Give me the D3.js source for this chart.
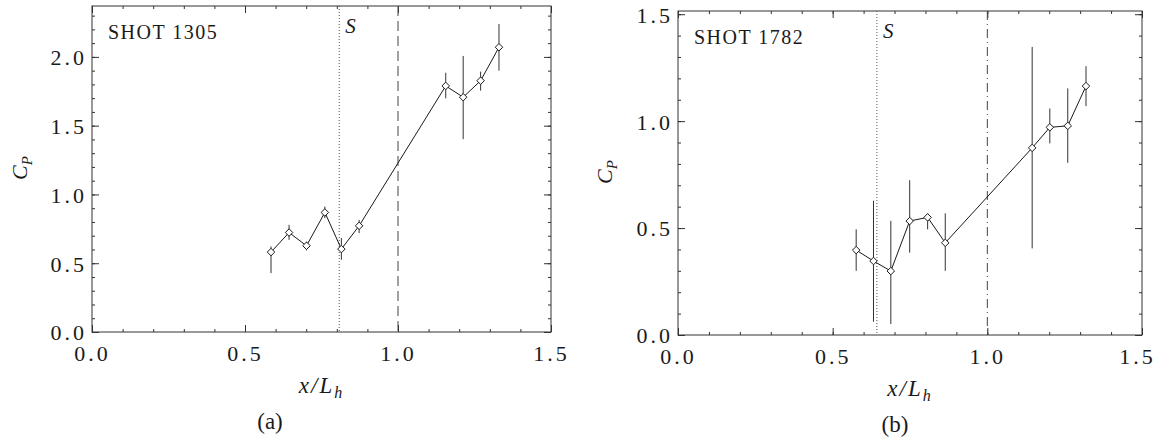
<!DOCTYPE html>
<html>
<head>
<meta charset="utf-8">
<script src="https://cdn.jsdelivr.net/npm/d3@7"></script>
<style>
  html, body { margin: 0; padding: 0; background: #fff; }
  svg { display: block; }
  text { font-family: "Liberation Serif", "Times New Roman", serif; fill: #1a1a1a; }
</style>
</head>
<body>
<svg id="chart" width="1158" height="439"></svg>
<script>
// ---------- data ----------
const shotA = "SHOT  1305";
const shotB = "SHOT  1782";
const panelTagA = "(a)";
const panelTagB = "(b)";

const xPosA  = [0.585, 0.644, 0.701, 0.761, 0.815, 0.873, 1.156, 1.213, 1.270, 1.330];
const cpA    = [0.581, 0.723, 0.627, 0.869, 0.603, 0.772, 1.789, 1.707, 1.827, 2.070];
const cpLoA  = [0.428, 0.670, 0.593, 0.828, 0.525, 0.719, 1.699, 1.402, 1.755, 1.900];
const cpHiA  = [0.622, 0.779, 0.658, 0.912, 0.683, 0.815, 1.885, 2.007, 1.893, 2.239];
const sepA   = 0.808;   // S (separation) line
const refA   = 1.0;     // x/L_h = 1 reference line

const xPosB  = [0.576, 0.632, 0.688, 0.749, 0.807, 0.864, 1.145, 1.202, 1.260, 1.319];
const cpB    = [0.397, 0.346, 0.299, 0.533, 0.550, 0.431, 0.875, 0.971, 0.978, 1.164];
const cpLoB  = [0.300, 0.062, 0.051, 0.385, 0.494, 0.300, 0.405, 0.896, 0.805, 1.070];
const cpHiB  = [0.494, 0.628, 0.534, 0.724, 0.569, 0.569, 1.347, 1.059, 1.153, 1.257];
const sepB   = 0.643;
const refB   = 1.0;

const xTicks  = [0.0, 0.5, 1.0, 1.5];
const yTicksA = [0.0, 0.5, 1.0, 1.5, 2.0];
const yTicksB = [0.0, 0.5, 1.0, 1.5];
const xDomain  = [0, 1.5];
const yDomainA = [0, 2.37];
const yDomainB = [0, 1.515];

// ---------- drawing ----------
const svg = d3.select("#chart");
const fmt = d3.format(".1f");
const ink = "#1a1a1a";

function panel(cfg) {
  const g = svg.append("g");
  const x = d3.scaleLinear().domain(xDomain).range([cfg.left, cfg.right]);
  const y = d3.scaleLinear().domain(cfg.yDomain).range([cfg.bottom, cfg.top]);

  const minorX = d3.range(0, 1.5001, 0.1);
  const minorY = d3.range(0, cfg.yDomain[1] + 1e-6, 0.1);

  function axis(gen, transform, values, size, labels, pad) {
    const a = gen.tickValues(values).tickSizeInner(size).tickSizeOuter(0)
      .tickPadding(pad || 0).tickFormat(labels ? fmt : "");
    const ag = g.append("g").attr("transform", transform).call(a);
    ag.select(".domain").remove();
    ag.selectAll("line").attr("stroke", "#333").attr("stroke-width", 1);
    ag.selectAll("text").attr("font-size", 22).attr("letter-spacing", "3px")
      .attr("fill", ink);
    return ag;
  }
  // bottom
  axis(d3.axisBottom(x), `translate(0,${cfg.bottom})`, minorX, -3, false);
  const xb = axis(d3.axisBottom(x), `translate(0,${cfg.bottom})`, xTicks, -7, true, 13);
  if (cfg.lastLabelShift) {
    xb.selectAll(".tick").filter(d => d === xTicks[xTicks.length - 1])
      .select("text").attr("dx", cfg.lastLabelShift);
  }
  // top
  axis(d3.axisTop(x), `translate(0,${cfg.top})`, minorX, -3, false);
  axis(d3.axisTop(x), `translate(0,${cfg.top})`, xTicks, -7, false);
  // left
  axis(d3.axisLeft(y), `translate(${cfg.left},0)`, minorY, -3, false);
  const yl = axis(d3.axisLeft(y), `translate(${cfg.left},0)`, cfg.yTicks, -7, true, 5);
  yl.selectAll("text").attr("dy", "0.36em");
  // right
  axis(d3.axisRight(y), `translate(${cfg.right},0)`, minorY, -3, false);
  axis(d3.axisRight(y), `translate(${cfg.right},0)`, cfg.yTicks, -7, false);

  // frame
  g.append("rect")
    .attr("x", cfg.left).attr("y", cfg.top)
    .attr("width", cfg.right - cfg.left).attr("height", cfg.bottom - cfg.top)
    .attr("fill", "none").attr("stroke", "#333").attr("stroke-width", 1);

  // separation line S (dotted)
  g.append("line")
    .attr("x1", x(cfg.sep)).attr("x2", x(cfg.sep))
    .attr("y1", cfg.top).attr("y2", cfg.bottom)
    .attr("stroke", "#555").attr("stroke-width", 1).attr("stroke-dasharray", "1,2");
  g.append("text")
    .attr("x", x(cfg.sep) + 6).attr("y", cfg.top + 27)
    .attr("font-size", 21).attr("font-style", "italic").text("S");

  // reference line at x/L_h = 1 (dashed)
  g.append("line")
    .attr("x1", x(cfg.ref)).attr("x2", x(cfg.ref))
    .attr("y1", cfg.top).attr("y2", cfg.bottom)
    .attr("stroke", "#444").attr("stroke-width", 1).attr("stroke-dasharray", cfg.refDash);

  // error bars
  g.selectAll(".err").data(cfg.xs).join("line")
    .attr("x1", d => x(d)).attr("x2", d => x(d))
    .attr("y1", (d, i) => y(cfg.lo[i])).attr("y2", (d, i) => y(cfg.hi[i]))
    .attr("stroke", "#333").attr("stroke-width", 1);

  // connecting line
  const pts = cfg.xs.map((d, i) => [d, cfg.cp[i]]);
  g.append("path")
    .attr("d", d3.line().x(d => x(d[0])).y(d => y(d[1]))(pts))
    .attr("fill", "none").attr("stroke", ink).attr("stroke-width", 1);

  // diamond markers
  const sym = d3.symbol().type(d3.symbolDiamond2).size(36);
  g.selectAll(".mk").data(pts).join("path")
    .attr("transform", d => `translate(${x(d[0])},${y(d[1])})`)
    .attr("d", sym)
    .attr("fill", "#fff").attr("stroke", ink).attr("stroke-width", 1);

  // shot label
  g.append("text")
    .attr("x", cfg.left + 16).attr("y", cfg.top + 33)
    .attr("font-size", 20).attr("letter-spacing", "1.5px").text(cfg.shot);

  // y-axis title C_P
  const yt = g.append("text")
    .attr("transform", `translate(${cfg.yTitleX},${cfg.yTitleY}) rotate(-90)`)
    .attr("text-anchor", "middle").attr("font-size", 22).attr("font-style", "italic");
  yt.append("tspan").text("C");
  yt.append("tspan").attr("font-size", 15).attr("dy", 5).text("P");

  // x-axis title x/L_h
  const xt = g.append("text")
    .attr("x", (cfg.left + cfg.right) / 2).attr("y", cfg.bottom + 61)
    .attr("text-anchor", "middle").attr("font-size", 23).attr("font-style", "italic")
    .attr("letter-spacing", "2px");
  xt.append("tspan").text("x/L");
  xt.append("tspan").attr("font-size", 16).attr("dy", 5).text("h");

  // panel tag
  g.append("text")
    .attr("x", cfg.tagX).attr("y", cfg.bottom + 97)
    .attr("text-anchor", "middle").attr("font-size", 23).text(cfg.tag);
}

panel({
  left: 92, right: 551, top: 6, bottom: 332,
  yDomain: yDomainA, yTicks: yTicksA,
  xs: xPosA, cp: cpA, lo: cpLoA, hi: cpHiA,
  sep: sepA, ref: refA, refDash: "10,5",
  shot: shotA, tag: panelTagA, tagX: 270,
  yTitleX: 27, yTitleY: 168, lastLabelShift: 0
});

panel({
  left: 678, right: 1142, top: 11, bottom: 335,
  yDomain: yDomainB, yTicks: yTicksB,
  xs: xPosB, cp: cpB, lo: cpLoB, hi: cpHiB,
  sep: sepB, ref: refB, refDash: "9,4,1,4",
  shot: shotB, tag: panelTagB, tagX: 895,
  yTitleX: 612, yTitleY: 172, lastLabelShift: -5
});
</script>
</body>
</html>
